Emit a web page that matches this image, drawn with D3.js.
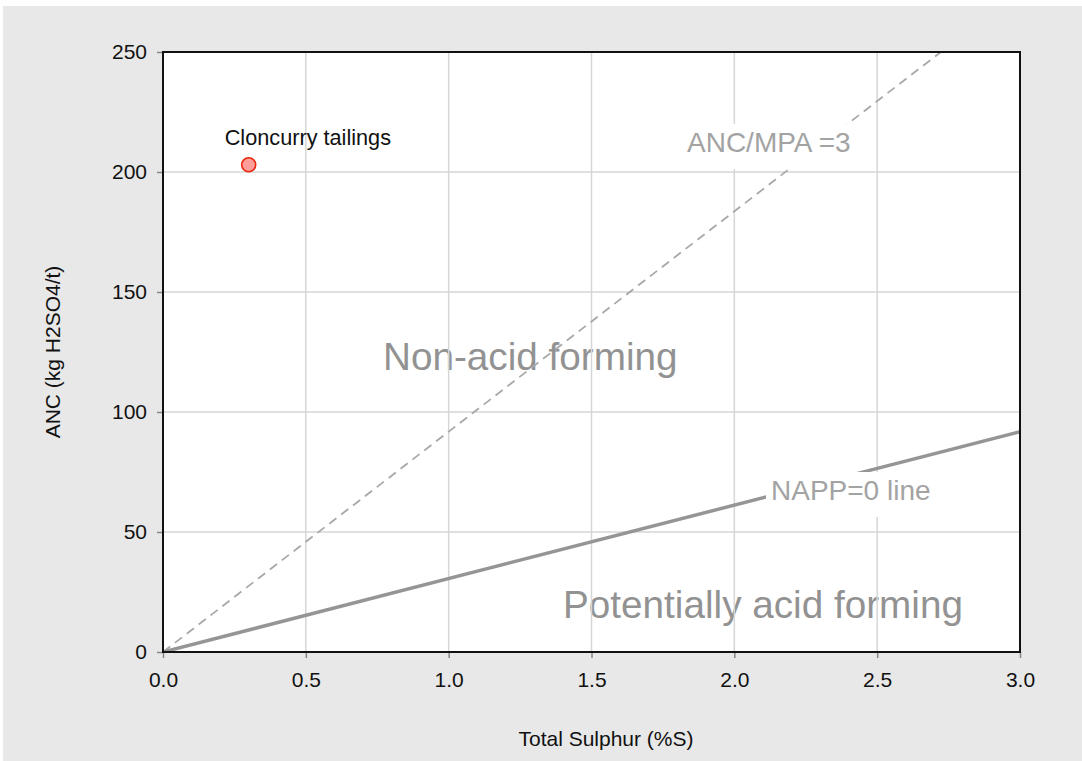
<!DOCTYPE html>
<html>
<head>
<meta charset="utf-8">
<script src="https://cdn.jsdelivr.net/npm/d3@7"></script>
<style>
  body { margin: 0; background: #fff; }
  svg { display: block; font-family: "Liberation Sans", Arial, sans-serif; }
</style>
</head>
<body>
<div id="chart"></div>
<script>
// chart data
const xTicks = [0, 0.5, 1.0, 1.5, 2.0, 2.5, 3.0];
const yTicks = [0, 50, 100, 150, 200, 250];
const samples = [{ name: "Cloncurry tailings", s: 0.3, anc: 203 }];
// NAPP = 0 : ANC = MPA = 30.6 * %S
const nappLine = [[0, 0], [3.0, 91.8]];
// ANC/MPA = 3 : ANC = 91.8 * %S
const ratioLine = [[0, 0], [2.723, 250]];

const width = 1082;
const height = 761;
const margin = { top: 52, right: 62, bottom: 109, left: 163 };
const innerW = width - margin.left - margin.right;
const innerH = height - margin.top - margin.bottom;

const svg = d3.select("#chart")
  .append("svg")
  .attr("width", width)
  .attr("height", height);

// grey page background
svg.append("rect")
  .attr("x", 3).attr("y", 6)
  .attr("width", width - 3).attr("height", height - 6)
  .attr("fill", "#e8e8e8");

const x = d3.scaleLinear().domain([0, 3]).range([0, innerW]);
const y = d3.scaleLinear().domain([0, 250]).range([innerH, 0]);

const g = svg.append("g")
  .attr("transform", `translate(${margin.left},${margin.top})`);

g.append("rect")
  .attr("width", innerW).attr("height", innerH)
  .attr("fill", "#fff");

svg.append("clipPath").attr("id", "plot-clip")
  .append("rect").attr("width", innerW).attr("height", innerH);

// zone labels (under grid and lines)
g.append("text")
  .attr("x", 220).attr("y", 318)
  .attr("font-size", 38.7).attr("fill", "#929292")
  .text("Non-acid forming");
g.append("text")
  .attr("x", 400).attr("y", 566)
  .attr("font-size", 38.7).attr("fill", "#929292")
  .text("Potentially acid forming");

// grid
g.append("g")
  .selectAll("line.vx")
  .data(xTicks.slice(1, -1))
  .join("line")
  .attr("x1", d => x(d)).attr("x2", d => x(d))
  .attr("y1", 0).attr("y2", innerH)
  .attr("stroke", "#d6d6d6").attr("stroke-width", 1.5);
g.append("g")
  .selectAll("line.hy")
  .data(yTicks.slice(1, -1))
  .join("line")
  .attr("x1", 0).attr("x2", innerW)
  .attr("y1", d => y(d)).attr("y2", d => y(d))
  .attr("stroke", "#d6d6d6").attr("stroke-width", 1.5);

const line = d3.line().x(d => x(d[0])).y(d => y(d[1]));
const lines = g.append("g").attr("clip-path", "url(#plot-clip)");
lines.append("path")
  .attr("d", line(ratioLine))
  .attr("fill", "none")
  .attr("stroke", "#a8a8a8").attr("stroke-width", 1.8)
  .attr("stroke-dasharray", "9,6");
lines.append("path")
  .attr("d", line(nappLine))
  .attr("fill", "none")
  .attr("stroke", "#959595").attr("stroke-width", 3.5);

// line labels with white boxes
function boxLabel(tx, ty, txt) {
  const lab = g.append("g");
  const r = lab.append("rect").attr("fill", "#fff");
  const t = lab.append("text")
    .attr("x", tx).attr("y", ty)
    .attr("font-size", 28).attr("fill", "#a3a3a3")
    .text(txt);
  const b = t.node().getBBox();
  r.attr("x", b.x - 5).attr("y", ty - 28)
    .attr("width", b.width + 9).attr("height", 45);
}
boxLabel(524, 100, "ANC/MPA =3");
boxLabel(608, 448, "NAPP=0 line");

// samples
g.selectAll("circle.pt")
  .data(samples)
  .join("circle")
  .attr("cx", d => x(d.s)).attr("cy", d => y(d.anc))
  .attr("r", 7)
  .attr("fill", "#ff9d9a")
  .attr("stroke", "#e8280c").attr("stroke-width", 1.6);
g.selectAll("text.pt")
  .data(samples)
  .join("text")
  .attr("x", d => x(d.s) - 24).attr("y", d => y(d.anc) - 20)
  .attr("font-size", 21.7).attr("fill", "#111")
  .text(d => d.name);

// axes
const xAxis = g.append("g")
  .attr("transform", `translate(0,${innerH})`)
  .call(d3.axisBottom(x).tickValues(xTicks).tickFormat(d3.format(".1f")).tickSize(6).tickPadding(14));
const yAxis = g.append("g")
  .call(d3.axisLeft(y).tickValues(yTicks).tickSize(6).tickPadding(10));
[xAxis, yAxis].forEach(a => {
  a.select(".domain").remove();
  a.selectAll(".tick line").attr("stroke", "#888").attr("stroke-width", 1.5);
  a.selectAll(".tick text").attr("font-size", 21).attr("fill", "#111")
    .attr("font-family", "Liberation Sans, Arial, sans-serif");
});

// plot frame
g.append("rect")
  .attr("width", innerW).attr("height", innerH)
  .attr("fill", "none")
  .attr("stroke", "#111").attr("stroke-width", 2);

// axis titles
svg.append("text")
  .attr("x", 606).attr("y", 746)
  .attr("text-anchor", "middle")
  .attr("font-size", 21).attr("fill", "#111")
  .text("Total Sulphur (%S)");
svg.append("text")
  .attr("transform", `translate(60,${margin.top + innerH / 2}) rotate(-90)`)
  .attr("text-anchor", "middle")
  .attr("font-size", 21).attr("fill", "#111")
  .text("ANC (kg H2SO4/t)");
</script>
</body>
</html>
